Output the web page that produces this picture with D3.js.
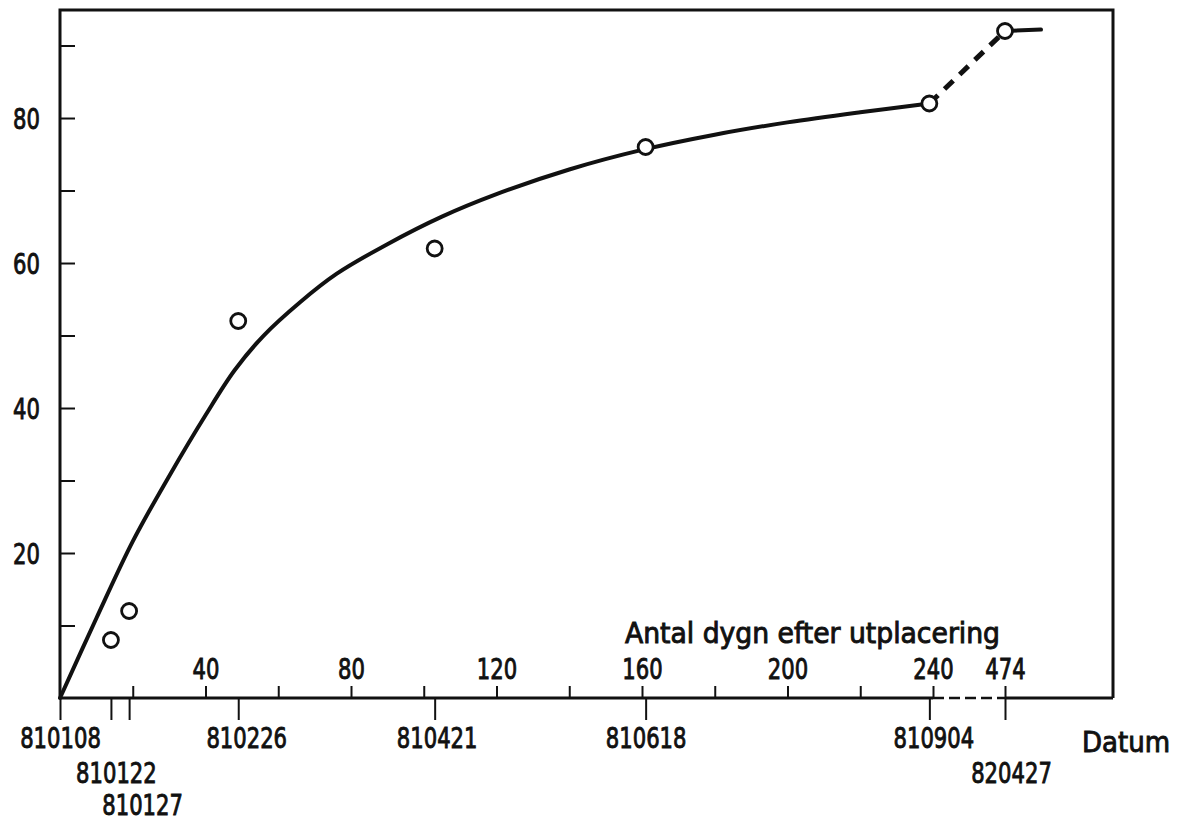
<!DOCTYPE html>
<html>
<head>
<meta charset="utf-8">
<script src="https://cdn.jsdelivr.net/npm/d3@7"></script>
<style>
  body { margin: 0; background: #fff; }
  svg { display: block; }
</style>
</head>
<body>
<script>
const width = 1180, height = 821;

// observations (circles)
const obsDays = [14, 19, 49, 103, 161, 239, 474];
const obsValues = [8, 12, 52, 62, 76, 82, 92];

// fitted curve
const curveDays = [0, 10, 20, 30, 40, 48, 56, 66, 76, 90, 105, 120, 140, 160, 180, 200, 220, 239];
const curveValues = [0, 11, 21.6, 30.6, 39, 45.2, 50, 54.6, 58.5, 62.6, 66.4, 69.5, 72.9, 75.6, 77.7, 79.4, 80.8, 82];
const dashDays = [239, 474];
const dashValues = [82, 92];
const tailDays = [474, 484];
const tailValues = [92, 92.2];

// axes
const yTicks = [10, 20, 30, 40, 50, 60, 70, 80, 90];
const yLabels = [20, 40, 60, 80];
const dayTicks = [20, 40, 60, 80, 100, 120, 140, 160, 180, 200, 220, 240, 474];
const dayLabels = [40, 80, 120, 160, 200, 240, 474];
const dates = ["810108", "810122", "810127", "810226", "810421", "810618", "810904", "820427"];
const dateDays = [0, 14, 19, 49, 103, 161, 239, 474];

const font = "'DejaVu Sans Condensed', 'DejaVu Sans', sans-serif";
const fs = 29;
const ink = "#111";
const squeeze = 0.81;
const heavy = 0.9;

const mLeft = 60, mRight = 1113, mTop = 10, mBottom = 698;

const x = d3.scaleLinear()
    .domain([0, 240, 474, 504])
    .range([mLeft, 933, 1005, mRight]);
const y = d3.scaleLinear()
    .domain([0, 94.9])
    .range([mBottom, mTop]);

const svg = d3.select("body").append("svg")
    .attr("width", width)
    .attr("height", height);

// frame
const frame = svg.append("g")
    .attr("stroke", ink)
    .attr("stroke-width", 3)
    .attr("fill", "none");
frame.append("path")
    .attr("d", `M${mLeft},${mBottom}V${mTop}H${mRight}V${mBottom}`);
frame.append("line")
    .attr("x1", x(0)).attr("x2", x(240))
    .attr("y1", mBottom).attr("y2", mBottom);
frame.append("line")
    .attr("x1", x(240)).attr("x2", x(474))
    .attr("y1", mBottom).attr("y2", mBottom)
    .attr("stroke-width", 2.5)
    .attr("stroke-dasharray", "11,5");
frame.append("line")
    .attr("x1", x(474)).attr("x2", mRight)
    .attr("y1", mBottom).attr("y2", mBottom);

// narrow, heavier lettering like the stencil labels
function letter(sel) {
  sel.attr("fill", ink)
    .attr("stroke", ink)
    .attr("stroke-width", heavy)
    .each(function() {
      const w = this.getComputedTextLength();
      if (w > 0) d3.select(this)
        .attr("textLength", w * squeeze)
        .attr("lengthAdjust", "spacingAndGlyphs");
    });
}

function styleAxis(g) {
  g.select(".domain").remove();
  g.attr("font-family", font).attr("font-size", fs);
  g.selectAll(".tick line").attr("stroke", ink).attr("stroke-width", 2);
}

// y axis: ticks inside, labels outside
svg.append("g")
    .attr("transform", `translate(${mLeft},0)`)
    .call(d3.axisLeft(y)
      .tickValues(yTicks)
      .tickSizeInner(-15)
      .tickSizeOuter(0)
      .tickPadding(20)
      .tickFormat(d => yLabels.includes(d) ? d : ""))
    .call(styleAxis)
    .call(g => g.selectAll(".tick text").attr("dy", "0.36em").call(letter));

// days after placement, above axis
svg.append("g")
    .attr("transform", `translate(0,${mBottom})`)
    .call(d3.axisTop(x)
      .tickValues(dayTicks)
      .tickSizeInner(12)
      .tickSizeOuter(0)
      .tickPadding(7)
      .tickFormat(d => dayLabels.includes(d) ? d : ""))
    .call(styleAxis)
    .call(g => g.selectAll(".tick text").call(letter));

svg.append("text")
    .attr("x", 625)
    .attr("y", 643)
    .attr("font-family", font)
    .attr("font-size", fs)
    .attr("fill", ink)
    .attr("stroke", ink)
    .attr("stroke-width", heavy)
    .attr("textLength", 375)
    .attr("lengthAdjust", "spacingAndGlyphs")
    .text("Antal dygn efter utplacering");

// dates, below axis
const dateRow = [0, 1, 2, 0, 0, 0, 0, 1];
const dateNudge = [0, 5, 13, 8, 2, 0, 4, 6];
const rowBase = [50, 85, 117];
svg.append("g")
    .attr("transform", `translate(0,${mBottom})`)
    .call(d3.axisBottom(x)
      .tickValues(dateDays)
      .tickSizeInner(22)
      .tickSizeOuter(0)
      .tickFormat((d, i) => dates[i]))
    .call(styleAxis)
    .call(g => g.selectAll(".tick text")
      .attr("dy", null)
      .attr("x", (d, i) => dateNudge[i])
      .attr("y", (d, i) => rowBase[dateRow[i]])
      .call(letter));

svg.append("text")
    .attr("x", 1082)
    .attr("y", 752)
    .attr("font-family", font)
    .attr("font-size", fs)
    .attr("fill", ink)
    .attr("stroke", ink)
    .attr("stroke-width", heavy)
    .attr("textLength", 88)
    .attr("lengthAdjust", "spacingAndGlyphs")
    .text("Datum");

// curve
const line = d3.line()
    .x(d => x(d[0]))
    .y(d => y(d[1]));

svg.append("path")
    .datum(d3.zip(curveDays, curveValues))
    .attr("fill", "none")
    .attr("stroke", ink)
    .attr("stroke-width", 4)
    .attr("stroke-linecap", "round")
    .attr("d", line.curve(d3.curveCatmullRom.alpha(0.5)));

svg.append("path")
    .datum(d3.zip(dashDays, dashValues))
    .attr("fill", "none")
    .attr("stroke", ink)
    .attr("stroke-width", 5)
    .attr("stroke-dasharray", "12,9")
    .attr("d", line.curve(d3.curveLinear));

svg.append("path")
    .datum(d3.zip(tailDays, tailValues))
    .attr("fill", "none")
    .attr("stroke", ink)
    .attr("stroke-width", 4)
    .attr("stroke-linecap", "round")
    .attr("d", line.curve(d3.curveLinear));

// observed points
svg.append("g")
  .selectAll("circle")
  .data(d3.zip(obsDays, obsValues))
  .join("circle")
    .attr("cx", d => x(d[0]))
    .attr("cy", d => y(d[1]))
    .attr("r", 7.5)
    .attr("fill", "#fff")
    .attr("stroke", ink)
    .attr("stroke-width", 2.8);
</script>
</body>
</html>
